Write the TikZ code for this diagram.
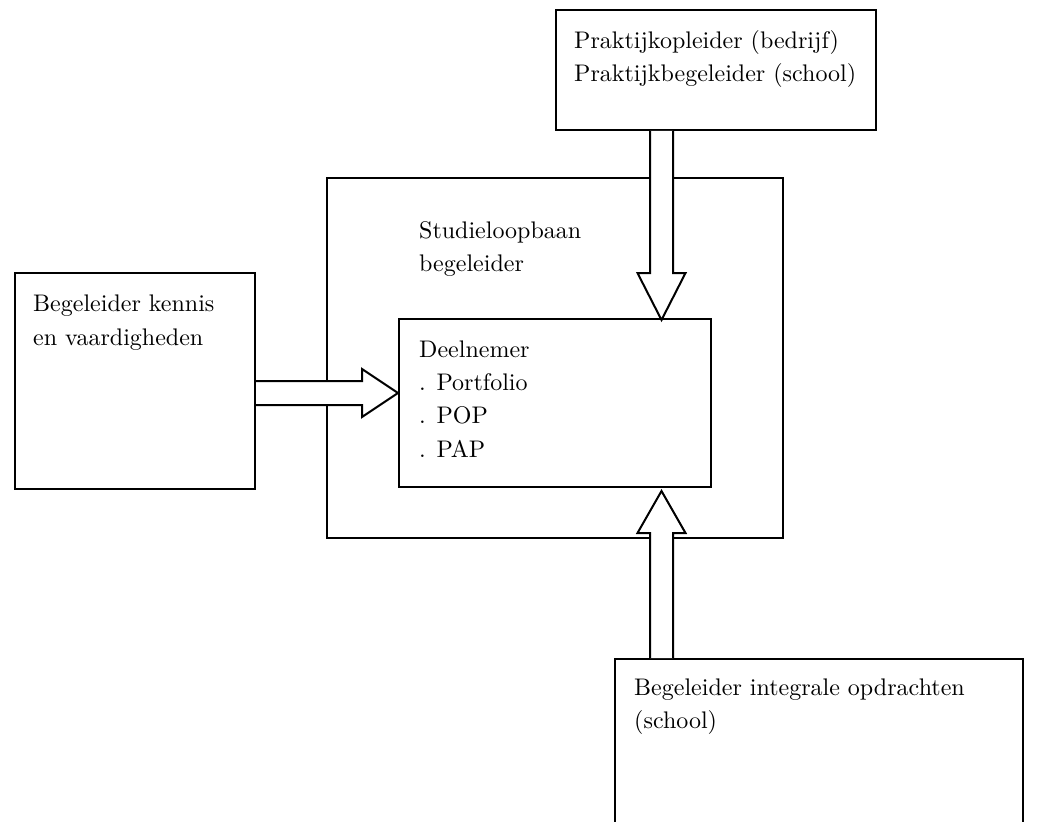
\documentclass[tikz,border=0pt]{standalone}
\usepackage{fontspec}
\setmainfont{lmroman10-regular.otf}
\usetikzlibrary{calc}

\tikzset{
  box/.style={draw, rectangle, line width=2pt, inner sep=0pt, anchor=north west},
  boxtext/.style={anchor=north west, inner sep=0pt, align=left,
                  font=\fontsize{24}{33.3}\selectfont},
  blockarrow/.style={draw, fill=white, line width=2pt, line join=miter}
}

\begin{document}
\begin{tikzpicture}[x=1pt, y=-1pt]
\useasboundingbox (0,0) rectangle (1040,821);
\clip (0,0) rectangle (1040,821);

% boxes
\node[box, minimum width=320pt, minimum height=120pt] (prak)   at (555,9)   {};
\node[box, minimum width=456pt, minimum height=360pt] (slb)    at (326,177) {};
\node[box, minimum width=240pt, minimum height=216pt] (kennis) at (14,272)  {};
\node[box, minimum width=312pt, minimum height=168pt] (deel)   at (398,318) {};
\node[box, minimum width=408pt, minimum height=210pt] (integ)  at (614,658) {};

% texts
\node[boxtext] (tprak)   at (574,24.7)  {\strut Praktijkopleider (bedrijf)\\Praktijkbegeleider (school)};
\node[boxtext] (tslb)    at (419,214.7) {\strut Studieloopbaan\\begeleider};
\node[boxtext] (tkennis) at (33,288.4)  {\strut Begeleider kennis\\en vaardigheden};
\node[boxtext] (tdeel)   at (419,333.7) {\strut Deelnemer\\. Portfolio\\. POP\\. PAP};
\node[boxtext] (tinteg)  at (634,671.7) {\strut Begeleider integrale opdrachten\\(school)};

% axes of the block arrows
\coordinate (vx) at (661.5,0);
\coordinate (hy) at (0,393);

% tips of the block arrows
\coordinate (downtip)  at ($(deel.north -| vx)+(0,2)$);
\coordinate (uptip)    at ($(deel.south -| vx)+(0,3)$);
\coordinate (righttip) at (deel.west |- hy);

% down arrow: practice supervisors -> participant
\draw[blockarrow] ($(prak.south -| vx)+(-11.5,0)$) -- ($(downtip)+(-11.5,-47)$)
  -- ($(downtip)+(-24,-47)$) -- (downtip) -- ($(downtip)+(24,-47)$)
  -- ($(downtip)+(11.5,-47)$) -- ($(prak.south -| vx)+(11.5,0)$);

% up arrow: integral assignments -> participant
\draw[blockarrow] ($(integ.north -| vx)+(-11.5,0)$) -- ($(uptip)+(-11.5,42)$)
  -- ($(uptip)+(-24,42)$) -- (uptip) -- ($(uptip)+(24,42)$)
  -- ($(uptip)+(11.5,42)$) -- ($(integ.north -| vx)+(11.5,0)$);

% right arrow: knowledge and skills -> participant
\draw[blockarrow] ($(kennis.east |- hy)+(0,-12)$) -- ($(righttip)+(-36,-12)$)
  -- ($(righttip)+(-36,-24)$) -- (righttip) -- ($(righttip)+(-36,24)$)
  -- ($(righttip)+(-36,12)$) -- ($(kennis.east |- hy)+(0,12)$);

\end{tikzpicture}
\end{document}
